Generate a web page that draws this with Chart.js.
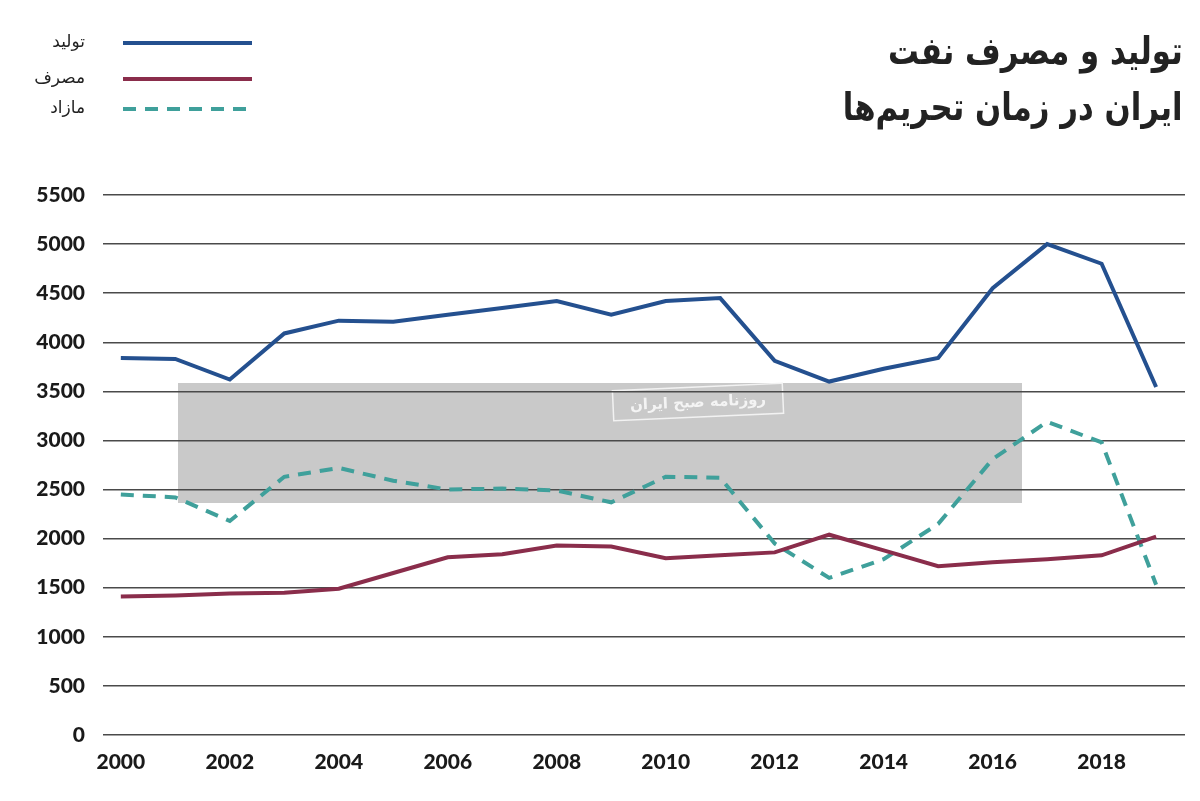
<!DOCTYPE html>
<html><head><meta charset="utf-8">
<script src="https://cdn.jsdelivr.net/npm/chart.js@4.4.0/dist/chart.umd.min.js"></script>
<style>
html,body{margin:0;padding:0;background:#fff;}
#wrap{position:relative;width:1200px;height:801px;overflow:hidden;}
#c{position:absolute;left:0;top:0;}
.title{position:absolute;right:17px;font-family:"DejaVu Sans",sans-serif;font-weight:bold;font-size:38px;color:#222;direction:rtl;white-space:nowrap;line-height:1;transform:scaleX(0.81);transform-origin:right center;}
.leg{position:absolute;left:0;width:85px;text-align:right;direction:rtl;font-family:"DejaVu Sans",sans-serif;font-size:17px;color:#222;line-height:1;}
.sw{position:absolute;left:123px;width:129px;height:4px;}
</style>
</head><body>
<div id="wrap">
<canvas id="c" width="1200" height="801"></canvas>
<div class="title" style="top:32px;">تولید و مصرف نفت</div>
<div class="title" style="top:88px;">ایران در زمان تحریم‌ها</div>
<div class="leg" style="top:33px;">تولید</div>
<div class="leg" style="top:69px;">مصرف</div>
<div class="leg" style="top:99px;">مازاد</div>
<div class="sw" style="top:41px;background:#24508f;"></div>
<div class="sw" style="top:77px;background:#8a2d4b;"></div>
<div class="sw" style="top:107px;background:repeating-linear-gradient(90deg,#3fa09b 0 13px,transparent 13px 22px);"></div>
</div>
<script>
const years = [2000,2001,2002,2003,2004,2005,2006,2007,2008,2009,2010,2011,2012,2013,2014,2015,2016,2017,2018,2019];
const production  = [3840,3830,3620,4090,4220,4210,4280,4350,4420,4280,4420,4450,3810,3600,3730,3840,4550,5000,4800,3545];
const consumption = [1410,1420,1440,1450,1490,1650,1810,1840,1930,1920,1800,1830,1860,2040,1880,1720,1760,1790,1830,2020];
const surplus     = [2450,2420,2180,2630,2720,2590,2500,2510,2490,2370,2630,2620,1950,1600,1790,2150,2810,3190,2980,1530];
const xTickLabels = [2000,2002,2004,2006,2008,2010,2012,2014,2016,2018];
const yTickLabels = [0,500,1000,1500,2000,2500,3000,3500,4000,4500,5000,5500];
const seriesNames = ['تولید','مصرف','مازاد'];

const pts = arr => years.map((y,i)=>({x:y,y:arr[i]}));

const watermark = {
  id:'watermark',
  beforeDraw(chart){
    const ctx = chart.ctx;
    ctx.save();
    ctx.fillStyle = '#c9c9c9';
    ctx.fillRect(178,383,844,120);
    ctx.translate(698,402);
    ctx.rotate(-0.045);
    ctx.strokeStyle = '#f2f2f2';
    ctx.lineWidth = 1.5;
    ctx.strokeRect(-85,-15,170,30);
    ctx.fillStyle = '#f4f4f4';
    ctx.font = 'bold 15px "DejaVu Sans"';
    ctx.textAlign = 'center';
    ctx.textBaseline = 'middle';
    ctx.direction = 'rtl';
    ctx.fillText('روزنامه صبح ایران',0,1);
    ctx.restore();
  }
};

const tickFont = {family:'Lato', weight:900, size:21};
new Chart(document.getElementById('c'), {
  type:'line',
  data:{datasets:[
    {label:seriesNames[0], data:pts(production), borderColor:'#24508f', borderWidth:4, pointRadius:0, tension:0},
    {label:seriesNames[1], data:pts(consumption), borderColor:'#8a2d4b', borderWidth:4, pointRadius:0, tension:0},
    {label:seriesNames[2], data:pts(surplus), borderColor:'#3fa09b', borderWidth:4, borderDash:[13,9], pointRadius:0, tension:0}
  ]},
  options:{
    responsive:false, animation:false,
    layout:{padding:{top:195,right:15,left:0,bottom:0}},
    plugins:{legend:{display:false}, tooltip:{enabled:false}},
    scales:{
      x:{type:'linear', min:1999.673, max:2019.53,
         afterBuildTicks:s=>{s.ticks = xTickLabels.map(v=>({value:v}));},
         afterFit:s=>{s.height=66;},
         grid:{display:false}, border:{display:false},
         ticks:{font:tickFont, color:'#1a1a1a', padding:7, maxRotation:0, autoSkip:false, callback:v=>String(v)}},
      y:{min:0, max:5500,
         afterBuildTicks:s=>{s.ticks = yTickLabels.map(v=>({value:v}));},
         afterFit:s=>{s.width=103;},
         grid:{color:'#4a4a4a', lineWidth:1.5, drawTicks:false}, border:{display:false},
         ticks:{font:tickFont, color:'#1a1a1a', padding:18, callback:v=>String(v)}}
    }
  },
  plugins:[watermark]
});
</script>
</body></html>
